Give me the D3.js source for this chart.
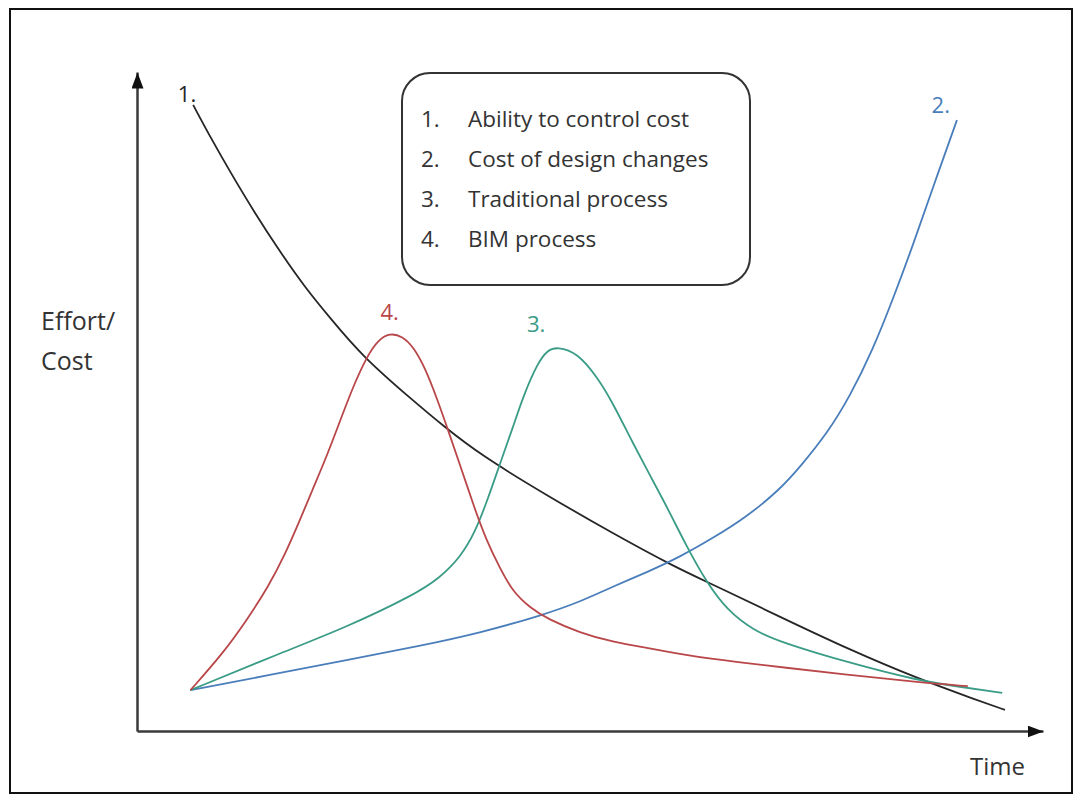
<!DOCTYPE html>
<html>
<head>
<meta charset="utf-8">
<script src="https://cdn.jsdelivr.net/npm/d3@7"></script>
<style>
    html, body {
        margin: 0;
        padding: 0;
        background: #ffffff;
    }

    svg {
        display: block;
        font-family: 'Open Sans', 'Noto Sans', sans-serif;
    }
</style>
</head>
<body>
<svg id="chart" width="1082" height="802"></svg>
<script>
// Values: time and effort/cost on a 0..100 scale
const legendItems = [
    'Ability to control cost',
    'Cost of design changes',
    'Traditional process',
    'BIM process'
];

const abilityToControlCost = [
    [6.2, 95.0], [8.1, 90.1], [10.3, 84.8], [13.0, 78.6], [15.8, 72.7],
    [18.5, 67.4], [21.3, 62.7], [24.9, 56.8], [30.5, 50.1], [33.8, 46.3],
    [37.9, 41.9], [45.3, 35.7], [52.5, 30.0], [59.2, 25.0], [63.6, 22.2],
    [71.0, 17.3], [78.7, 12.3], [86.1, 8.0], [92.7, 4.7], [95.8, 3.2]
];

const costOfDesignChanges = [
    [5.9, 6.2], [14.7, 8.5], [23.2, 10.8], [31.2, 12.9], [37.9, 14.9],
    [44.8, 17.6], [48.9, 19.6], [52.5, 21.9], [56.3, 24.1], [59.9, 26.4],
    [63.6, 29.3], [67.3, 32.5], [71.0, 36.7], [73.2, 40.1], [76.2, 45.2],
    [78.7, 50.8], [81.2, 57.8], [83.4, 65.4], [85.7, 73.9], [87.9, 82.7],
    [90.5, 92.7]
];

const traditionalProcess = [
    [5.9, 6.2], [15.8, 11.8], [23.2, 15.8], [30.5, 20.6], [33.4, 23.2],
    [35.7, 26.4], [37.3, 30.1], [38.7, 35.1], [40.1, 40.7], [41.5, 46.1],
    [42.6, 50.7], [44.2, 55.8], [45.3, 57.8], [46.4, 58.3], [48.6, 57.4],
    [50.8, 53.7], [52.5, 49.8], [54.4, 44.6], [56.3, 39.6], [58.5, 34.0],
    [60.7, 27.9], [62.9, 22.5], [65.1, 18.4], [68.0, 15.3], [71.0, 13.5],
    [78.7, 10.3], [86.1, 7.7], [90.8, 6.7], [95.5, 5.8]
];

const bimProcess = [
    [5.9, 6.2], [9.5, 11.8], [12.1, 16.8], [14.5, 21.9], [16.3, 26.7],
    [17.8, 31.4], [19.4, 36.7], [21.0, 41.9], [22.4, 47.0], [23.8, 52.1],
    [25.4, 56.9], [26.6, 59.3], [27.9, 60.4], [29.3, 59.9], [30.5, 58.3],
    [31.8, 55.1], [33.1, 50.5], [34.4, 45.4], [35.8, 39.8], [37.2, 34.0],
    [38.6, 28.8], [40.1, 24.6], [41.5, 21.1], [43.4, 18.7], [45.3, 17.0],
    [48.9, 14.9], [52.5, 13.5], [56.3, 12.6], [59.9, 11.7], [63.6, 10.9],
    [67.3, 10.3], [71.0, 9.7], [78.7, 8.5], [86.1, 7.4], [91.7, 6.8]
];

const SERIES = [
    { label: '1.', points: abilityToControlCost, color: '#262626', anchor: 'first', dx: 3, dy: -3 },
    { label: '2.', points: costOfDesignChanges, color: '#4a7ebb', anchor: 'last', dx: -7, dy: -7 },
    { label: '3.', points: traditionalProcess, color: '#3a9c86', anchor: 'peak', dx: -12, dy: -15 },
    { label: '4.', points: bimProcess, color: '#b9474a', anchor: 'peak', dx: 9, dy: -13 }
];

const svg = d3.select('#chart');
const textColor = '#333333';

// outer frame of the figure
svg.append('rect')
    .attr('x', 10)
    .attr('y', 9)
    .attr('width', 1062)
    .attr('height', 784)
    .attr('fill', 'none')
    .attr('stroke', '#111')
    .attr('stroke-width', 2);

const xScale = d3.scaleLinear().domain([0, 100]).range([137, 1043]);
const yScale = d3.scaleLinear().domain([0, 100]).range([731, 72]);

const defs = svg.append('defs');
defs.append('marker')
    .attr('id', 'arrow')
    .attr('viewBox', '0 0 16 12')
    .attr('refX', 16)
    .attr('refY', 6)
    .attr('markerUnits', 'userSpaceOnUse')
    .attr('markerWidth', 16)
    .attr('markerHeight', 12)
    .attr('orient', 'auto')
    .append('path')
    .attr('d', 'M0,0L16,6L0,12Z')
    .attr('fill', '#111');

function drawAxis(axis, transform) {
    svg.append('g')
        .attr('transform', transform)
        .call(axis.ticks(0).tickSizeOuter(0))
        .call((group) => group.select('.domain')
            .attr('stroke', '#3a3a3a')
            .attr('stroke-width', 2.5)
            .attr('marker-end', 'url(#arrow)'));
}

drawAxis(d3.axisLeft(yScale), `translate(${xScale(0)},0)`);
drawAxis(d3.axisBottom(xScale), `translate(0,${yScale(0)})`);

const line = d3.line()
    .x((d) => xScale(d[0]))
    .y((d) => yScale(d[1]))
    .curve(d3.curveBasis);

SERIES.forEach((series) => {
    svg.append('path')
        .datum(series.points)
        .attr('d', line)
        .attr('fill', 'none')
        .attr('stroke', series.color)
        .attr('stroke-width', 1.8);

    let point = series.points[0];
    if (series.anchor === 'last') point = series.points[series.points.length - 1];
    if (series.anchor === 'peak') point = series.points.reduce((a, b) => (b[1] > a[1] ? b : a));

    svg.append('text')
        .attr('x', xScale(point[0]) + series.dx)
        .attr('y', yScale(point[1]) + series.dy)
        .attr('text-anchor', 'end')
        .attr('fill', series.color)
        .attr('font-size', 22)
        .text(series.label);
});

// axis titles
svg.append('text')
    .attr('x', 41)
    .attr('y', 330)
    .attr('fill', textColor)
    .attr('font-size', 25)
    .text('Effort/');

svg.append('text')
    .attr('x', 41)
    .attr('y', 370)
    .attr('fill', textColor)
    .attr('font-size', 25)
    .text('Cost');

svg.append('text')
    .attr('x', 970)
    .attr('y', 775)
    .attr('fill', textColor)
    .attr('font-size', 24)
    .text('Time');

// legend box
const legend = svg.append('g').attr('transform', 'translate(402,73)');

legend.append('rect')
    .attr('width', 348)
    .attr('height', 212)
    .attr('rx', 28)
    .attr('fill', '#fff')
    .attr('stroke', '#333')
    .attr('stroke-width', 2);

legend.selectAll('.legend-row')
    .data(legendItems)
    .enter()
    .append('text')
    .attr('class', 'legend-row')
    .attr('x', 19)
    .attr('y', (d, i) => 54 + i * 40)
    .attr('fill', textColor)
    .attr('font-size', 22.5)
    .call((rows) => rows.append('tspan').text((d, i) => `${i + 1}.`))
    .call((rows) => rows.append('tspan').attr('x', 66).text((d) => d));
</script>
</body>
</html>
